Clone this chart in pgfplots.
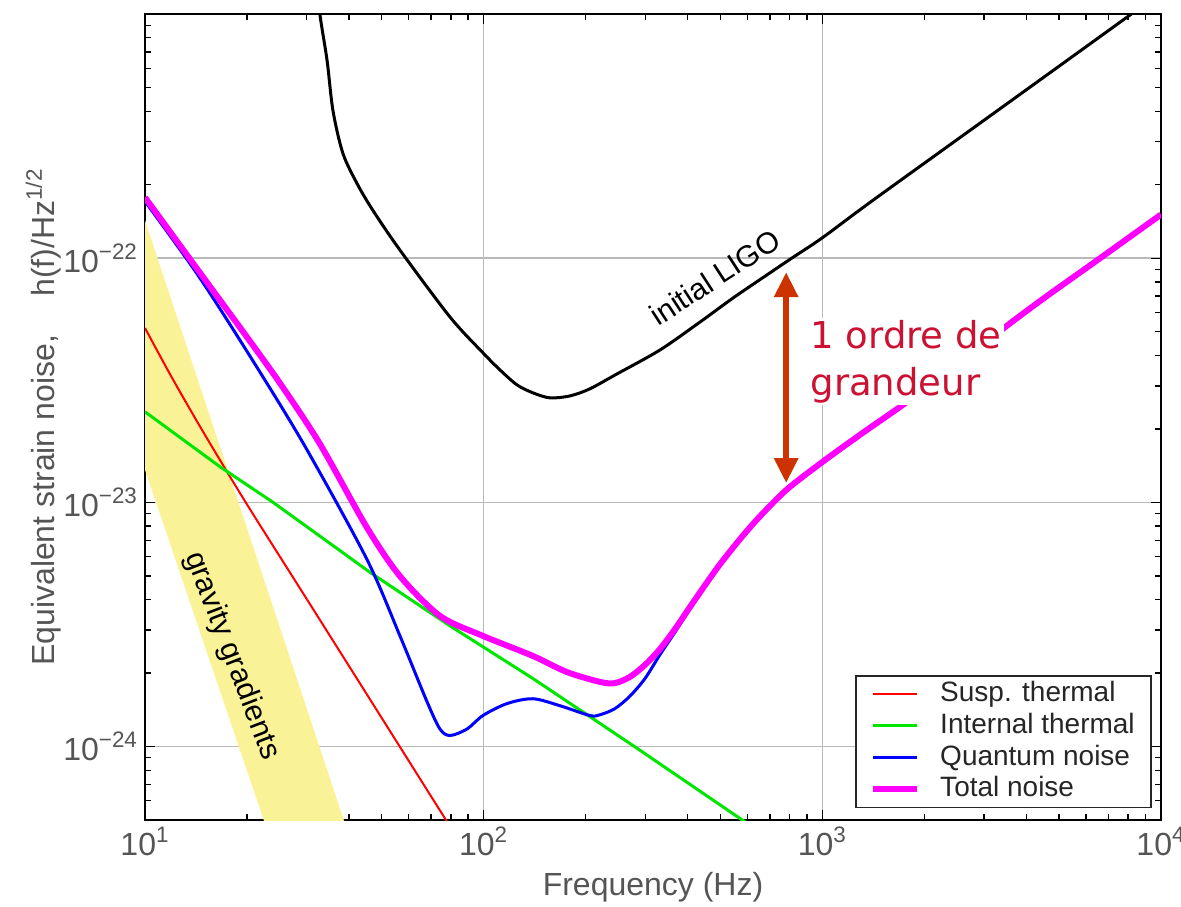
\documentclass[border=0pt]{standalone}
\usepackage{pgfplots}
\pgfplotsset{compat=1.18}
\usepackage{fontspec}
\setmainfont{Liberation Sans}
\newfontfamily\annfont{DejaVu Sans}
\usetikzlibrary{arrows.meta}
\definecolor{tickgray}{RGB}{85,85,85}
\definecolor{gridgray}{RGB}{185,185,185}
\definecolor{ggyellow}{RGB}{250,242,150}
\definecolor{arrowred}{RGB}{204,51,0}
\definecolor{annred}{RGB}{204,17,51}
\definecolor{mygreen}{RGB}{0,230,0}
\definecolor{mymagenta}{RGB}{255,0,255}
\definecolor{myblue}{RGB}{0,0,255}
\definecolor{myred}{RGB}{255,0,0}
\begin{document}
\begin{tikzpicture}
\begin{axis}[
  scale only axis, width=508pt, height=403pt,
  xmode=log, ymode=log,
  xmin=10, xmax=10000, ymin=5e-25, ymax=1e-21,
  xtick={10,100,1000,10000},
  xticklabels={10\textsuperscript{1},10\textsuperscript{2},10\textsuperscript{3},10\textsuperscript{4}},
  minor xtick={20,30,40,50,60,70,80,90,200,300,400,500,600,700,800,900,2000,3000,4000,5000,6000,7000,8000,9000},
  ytick={1e-24,1e-23,1e-22},
  yticklabels={10\textsuperscript{−24},10\textsuperscript{−23},10\textsuperscript{−22}},
  minor ytick={6e-25,7e-25,8e-25,9e-25,2e-24,3e-24,4e-24,5e-24,6e-24,7e-24,8e-24,9e-24,2e-23,3e-23,4e-23,5e-23,6e-23,7e-23,8e-23,9e-23,2e-22,3e-22,4e-22,5e-22,6e-22,7e-22,8e-22,9e-22},
  tick align=inside,
  major tick length=5pt, minor tick length=3pt,
  grid=major, major grid style={gridgray, line width=0.8pt},
  axis line style={line width=1pt},
  every tick/.style={black, line width=0.7pt},
  tick label style={font=\fontsize{16}{18}\selectfont, text=tickgray},
  label style={font=\fontsize{16}{18}\selectfont, text=tickgray},
  xlabel={Frequency (Hz)},
  ylabel={Equivalent strain noise,\hspace{1.2em}h(f)/Hz\textsuperscript{1/2}},
  xlabel style={at={(axis description cs:0.5,-0.083)}, anchor=center},
  ylabel style={at={(axis description cs:-0.100,0.5)}, anchor=center},
  legend style={at={(0.991,0.015)}, anchor=south east, draw=black!85, line width=0.7pt,
    font=\fontsize{14}{16}\selectfont, text=black!85, inner xsep=7pt, inner ysep=1pt,
    column sep=9pt, row sep=0pt,
    nodes={inner sep=1.2pt, text height=10.5pt, text depth=3pt}},
  legend cell align=left,
  legend image code/.code={\draw[#1] (0pt,0pt) -- (22pt,0pt);},
]
% gravity gradients band
\addplot[fill=ggyellow, draw=none, forget plot] coordinates {
 (10,1.43e-22) (40.8,3.98e-25) (23.7,3.98e-25) (10,1.36e-23)} -- cycle;

% Susp. thermal
\addplot[myred, line width=1pt, smooth] coordinates {
 (10,5.18e-23) (12,3.25e-23) (15,1.90e-23) (20,9.82e-24) (30,4.03e-24)
 (50,1.31e-24) (76,5.21e-25) (80,4.66e-25)};
\addlegendentry{Susp. thermal}

% Internal thermal
\addplot[mygreen, line width=1.5pt] coordinates {
 (10,2.35e-23) (16.65,1.40e-23) (23.9,1.0e-23) (46.1,5.18e-24) (79.6,3.12e-24)
 (139.8,1.90e-24) (276,1.01e-24) (571,5.08e-25) (632,4.62e-25)};
\addlegendentry{Internal thermal}

% Quantum noise
\addplot[myblue, line width=1.5pt, smooth] coordinates {
 (10,1.71e-22) (14.54,8.28e-23) (21.9,3.40e-23) (30.1,1.64e-23) (45.2,5.85e-24)
 (56.6,2.84e-24) (68.0,1.53e-24) (74.3,1.18e-24) (79.6,1.11e-24) (89.3,1.18e-24)
 (99.5,1.34e-24) (117.2,1.50e-24) (139.8,1.57e-24) (168,1.47e-24) (206,1.34e-24)
 (220.6,1.35e-24) (244,1.43e-24) (270.4,1.61e-24) (299.5,1.90e-24) (331.6,2.38e-24)
 (367.3,2.94e-24) (406.6,3.66e-24) (450.3,4.50e-24) (498.6,5.50e-24) (571.2,6.98e-24)
 (654.5,8.67e-24) (786,1.12e-23) (1004,1.45e-23) (1318,1.91e-23) (1730,2.49e-23)
 (2383,3.46e-23) (3532,5.29e-23) (4603,6.95e-23) (6607,0.99e-22) (10000,1.50e-22)};
\addlegendentry{Quantum noise}

% Total noise
\addplot[mymagenta, line width=3pt, smooth] coordinates {
 (10,1.774e-22) (14.54,8.71e-23) (20.4,4.58e-23) (25.4,2.99e-23) (32.9,1.73e-23)
 (45.2,7.9e-24) (56.6,4.99e-24) (74.3,3.43e-24) (99.5,2.84e-24) (139.8,2.35e-24)
 (176,2.02e-24) (220.6,1.84e-24) (244,1.82e-24) (270.4,1.93e-24) (299.5,2.16e-24)
 (331.6,2.51e-24) (367.3,3.03e-24) (406.6,3.73e-24) (450.3,4.58e-24) (498.6,5.58e-24)
 (571.2,7.07e-24) (654.5,8.77e-24) (786,1.13e-23) (1004,1.47e-23) (1318,1.93e-23)
 (1730,2.51e-23) (2383,3.49e-23) (3532,5.33e-23) (4603,7.0e-23) (6607,1.0e-22)
 (10000,1.51e-22)};
\addlegendentry{Total noise}

% initial LIGO
\addplot[black, line width=1.5pt, smooth, forget plot] coordinates {
 (32.4,1.24e-21) (32.9,9.8e-22) (34.5,6.43e-22) (35.9,4.02e-22) (38.4,2.69e-22)
 (42.3,2.02e-22) (47.1,1.57e-22) (56.6,1.08e-22) (79.6,5.74e-23) (99.5,4.10e-23)
 (111.7,3.49e-23) (125.4,3.03e-23) (139.8,2.81e-23) (157,2.68e-23) (179.8,2.73e-23)
 (206,2.92e-23) (247.6,3.36e-23) (331.6,4.21e-23)
 (435.4,5.48e-23) (544.6,6.87e-23) (677.2,8.44e-23) (802.6,9.9e-23) (997.7,1.21e-22)
 (1413,1.73e-22) (3343,4.09e-22) (8090,9.9e-22) (9930,1.22e-21)};

% order-of-magnitude arrow
\addplot[arrowred, line width=3pt, {Triangle[width=11.5pt,length=12.5pt]}-{Triangle[width=11.5pt,length=12.5pt]}, forget plot]
 coordinates {(782,8.77e-23) (782,1.20e-23)};

\node[rotate=33, font=\fontsize{15}{17}\selectfont, text=black] at (axis cs:482,8.36e-23) {initial LIGO};
\node[rotate=-69, font=\fontsize{15}{17}\selectfont, text=black] at (axis cs:18.07,2.35e-24) {gravity gradients};
\node[anchor=north west, align=left, fill=white, inner sep=1pt, text=annred,
      font=\annfont\fontsize{18.5}{23.5}\selectfont] at (axis cs:908,5.69e-23) {1 ordre de\\grandeur};
\end{axis}
\pgfresetboundingbox
\path[use as bounding box] ([shift={(-72.5pt,-43.5pt)}]current axis.south west) rectangle ([shift={(10pt,7pt)}]current axis.north east);
\end{tikzpicture}
\end{document}
